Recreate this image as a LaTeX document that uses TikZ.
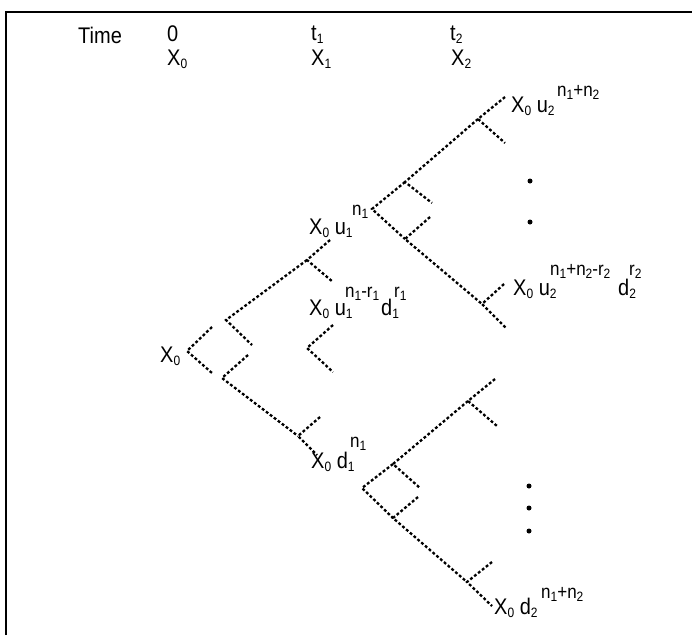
\documentclass[tikz,border=0pt]{standalone}
\usepackage{graphicx}
\usepackage{fontspec}
\setmainfont{Liberation Sans}
\newcommand\lsb[1]{\raisebox{-3.5pt}{\fontsize{12}{12}\selectfont #1}}
\newcommand\tl[1]{\scalebox{1}[1.13]{#1}}
\begin{document}
\begin{tikzpicture}[x=1pt,y=-1pt,
  br/.style={line width=2.3pt, dash pattern=on 2.8pt off 2.2pt},
  lab/.style={anchor=base west, inner sep=0pt, font=\fontsize{20}{20}\selectfont},
  suplab/.style={anchor=base west, inner sep=0pt, font=\fontsize{17}{17}\selectfont},
  dotn/.style={circle, fill=black, inner sep=0pt, minimum size=5pt}]
\useasboundingbox (0,0) rectangle (692,635);
\coordinate (fa) at (6,635); \coordinate (fb) at (6,12); \coordinate (fc) at (692,12);
\draw[line width=2pt] (fa) -- (fb) -- (fc);
% header
\node[lab] (time) at (78,43) {\tl{Time}};
\node[lab] (h0) at (167,41) {\tl{0}};
\node[lab] (hx0) at (167,65) {\tl{X\lsb{0}}};
\node[lab] (ht1) at (311,40) {\tl{t\lsb{1}}};
\node[lab] (hx1) at (311,65) {\tl{X\lsb{1}}};
\node[lab] (ht2) at (450,40) {\tl{t\lsb{2}}};
\node[lab] (hx2) at (451,65) {\tl{X\lsb{2}}};
% stage 1 coordinates
\coordinate (R) at (187,351); \coordinate (Ru) at (212,327); \coordinate (Rd) at (212,373);
\coordinate (P1) at (226,320); \coordinate (P1d) at (252,345);
\coordinate (P2) at (222,378); \coordinate (P2u) at (248,355);
\coordinate (U1) at (307,260); \coordinate (U1u) at (330,240); \coordinate (U1d) at (333,282);
\coordinate (M1) at (307,348); \coordinate (M1u) at (333,325); \coordinate (M1d) at (333,372);
\coordinate (L1) at (298,436); \coordinate (L1u) at (320,417); \coordinate (L1d) at (317,455);
\draw[br] (Ru) -- (R) -- (Rd);
\draw[br] (U1) -- (P1) -- (P1d);
\draw[br] (P2u) -- (P2) -- (L1);
\draw[br] (U1u) -- (U1) -- (U1d);
\draw[br] (M1u) -- (M1) -- (M1d);
\draw[br] (L1u) -- (L1) -- (L1d);
% stage 2 upper
\coordinate (A) at (372,209); \coordinate (D) at (405,182); \coordinate (B) at (405,239);
\coordinate (Dd) at (432,203); \coordinate (Bu) at (430,217);
\coordinate (E) at (478,119); \coordinate (Eu) at (505,97); \coordinate (Ed) at (505,143);
\coordinate (C) at (482,304); \coordinate (Cu) at (504,284); \coordinate (Cd) at (506,328);
\draw[br] (D) -- (A) -- (B);
\draw[br] (E) -- (D) -- (Dd);
\draw[br] (Bu) -- (B) -- (C);
\draw[br] (Eu) -- (E) -- (Ed);
\draw[br] (Cu) -- (C) -- (Cd);
% stage 2 lower
\coordinate (F) at (362,488); \coordinate (G) at (393,464); \coordinate (H) at (393,518);
\coordinate (Gd) at (420,488); \coordinate (Hu) at (418,497);
\coordinate (J) at (468,401); \coordinate (Ju) at (495,379); \coordinate (Jd) at (497,426);
\coordinate (I) at (467,582); \coordinate (Iu) at (492,562); \coordinate (Id) at (492,606);
\draw[br] (G) -- (F) -- (H);
\draw[br] (J) -- (G) -- (Gd);
\draw[br] (Hu) -- (H) -- (I);
\draw[br] (Ju) -- (J) -- (Jd);
\draw[br] (Iu) -- (I) -- (Id);
% dots
\node[dotn] (d1) at (530,181) {};
\node[dotn] (d2) at (530,222) {};
\node[dotn] (d3) at (529,486) {};
\node[dotn] (d4) at (529,508) {};
\node[dotn] (d5) at (529,531) {};
% labels
\node[lab] (root) at (160,362) {\tl{X\lsb{0}}};
\node[lab] (uu) at (511,112) {\tl{X\lsb{0} u\lsb{2}}};
\node[suplab] (uus) at (557,96) {\tl{n\lsb{1}+n\lsb{2}}};
\node[lab] (u1) at (309,234) {\tl{X\lsb{0} u\lsb{1}}};
\node[suplab] (u1s) at (352,215) {\tl{n\lsb{1}}};
\node[lab] (ud1) at (309,315) {\tl{X\lsb{0} u\lsb{1}}};
\node[suplab] (ud1s) at (345,297) {\tl{n\lsb{1}-r\lsb{1}}};
\node[lab] (ud1d) at (381,315) {\tl{d\lsb{1}}};
\node[suplab] (ud1r) at (394,297) {\tl{r\lsb{1}}};
\node[lab] (ud2) at (513,295) {\tl{X\lsb{0} u\lsb{2}}};
\node[suplab] (ud2s) at (550,275) {\tl{n\lsb{1}+n\lsb{2}-r\lsb{2}}};
\node[lab] (ud2d) at (618,295) {\tl{d\lsb{2}}};
\node[suplab] (ud2r) at (629,275) {\tl{r\lsb{2}}};
\node[lab] (d1l) at (311,468) {\tl{X\lsb{0} d\lsb{1}}};
\node[suplab] (d1s) at (350,447) {\tl{n\lsb{1}}};
\node[lab] (dd) at (494,614) {\tl{X\lsb{0} d\lsb{2}}};
\node[suplab] (dds) at (541,598) {\tl{n\lsb{1}+n\lsb{2}}};
\end{tikzpicture}
\end{document}
